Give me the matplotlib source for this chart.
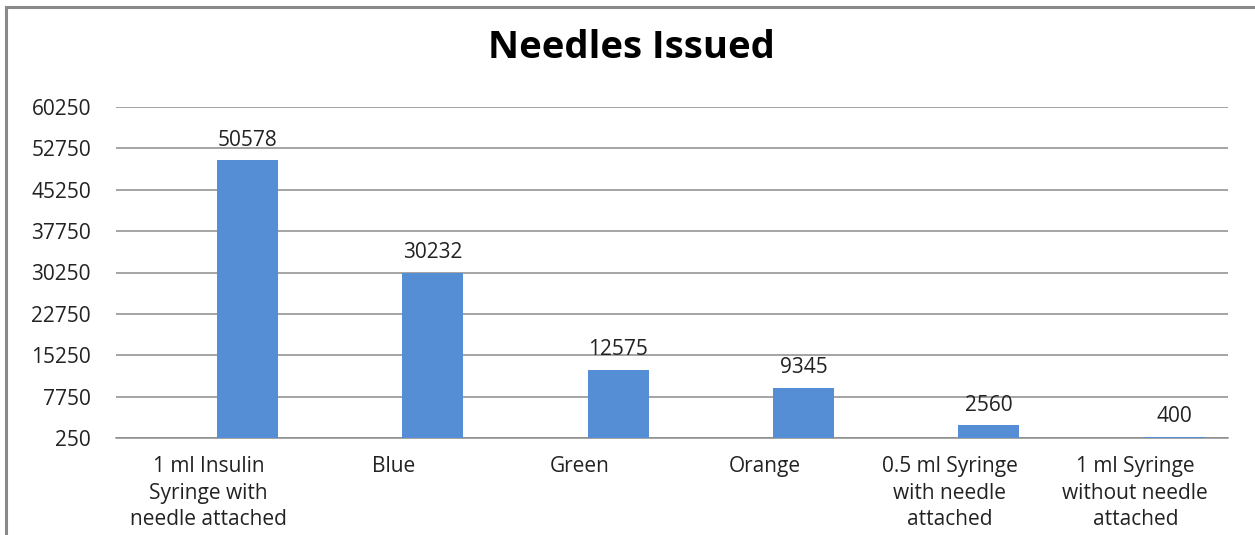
import matplotlib
matplotlib.use("Agg")
import matplotlib.pyplot as plt
import numpy as np
from matplotlib.lines import Line2D

categories = [
    "1 ml Insulin\nSyringe with\nneedle attached",
    "Blue",
    "Green",
    "Orange",
    "0.5 ml Syringe\nwith needle\nattached",
    "1 ml Syringe\nwithout needle\nattached",
]
issued = [50578, 30232, 12575, 9345, 2560, 400]
y_ticks = [250, 7750, 15250, 22750, 30250, 37750, 45250, 52750, 60250]

plt.rcParams['font.family'] = ['Open Sans', 'DejaVu Sans']

fig = plt.figure(figsize=(12.55, 5.35), dpi=100)
ax = fig.add_axes([116 / 1255, 97 / 535, 1112 / 1255, 331 / 535])

x = np.arange(len(categories))
bar_color = "#558ed5"
ax.bar(x + 0.045, issued, 0.33, bottom=0, align="edge", color=bar_color, zorder=3)

for xi, v in zip(x, issued):
    ax.annotate(str(v), (xi + 0.045 + 0.165, max(v, 250)), xytext=(0, 7),
                textcoords="offset points", ha="center", va="bottom",
                fontsize=15, color="#222222")

ax.set_xlim(-0.5, len(categories) - 0.5)
ax.set_ylim(250, 60250)
ax.set_yticks(y_ticks)
ax.set_yticklabels([str(t) for t in y_ticks], fontsize=15, color="#222222")
ax.set_xticks(x)
ax.set_xticklabels(categories, fontsize=15, color="#222222", linespacing=1.35)
ax.tick_params(axis="both", length=0)
ax.tick_params(axis="y", pad=18)
ax.tick_params(axis="x", pad=13)
ax.grid(axis="y", color="#8c8c8c", linewidth=1.1, zorder=0)
for s in ["top", "right", "left"]:
    ax.spines[s].set_visible(False)
ax.spines["bottom"].set_color("#8c8c8c")
ax.spines["bottom"].set_linewidth(1.1)

fig.text(631 / 1255, 1 - 48 / 535, "Needles Issued", ha="center", va="center",
         fontsize=27.5, fontweight="bold", color="black")

# outer chart border
fig.add_artist(Line2D([6 / 1255, 6 / 1255], [0, 1 - 7 / 535], transform=fig.transFigure,
                      color="#8a8a8a", linewidth=2.2))
fig.add_artist(Line2D([6 / 1255, 1], [1 - 7 / 535, 1 - 7 / 535], transform=fig.transFigure,
                      color="#8a8a8a", linewidth=2.2))

fig.savefig("out.png", dpi=100)
